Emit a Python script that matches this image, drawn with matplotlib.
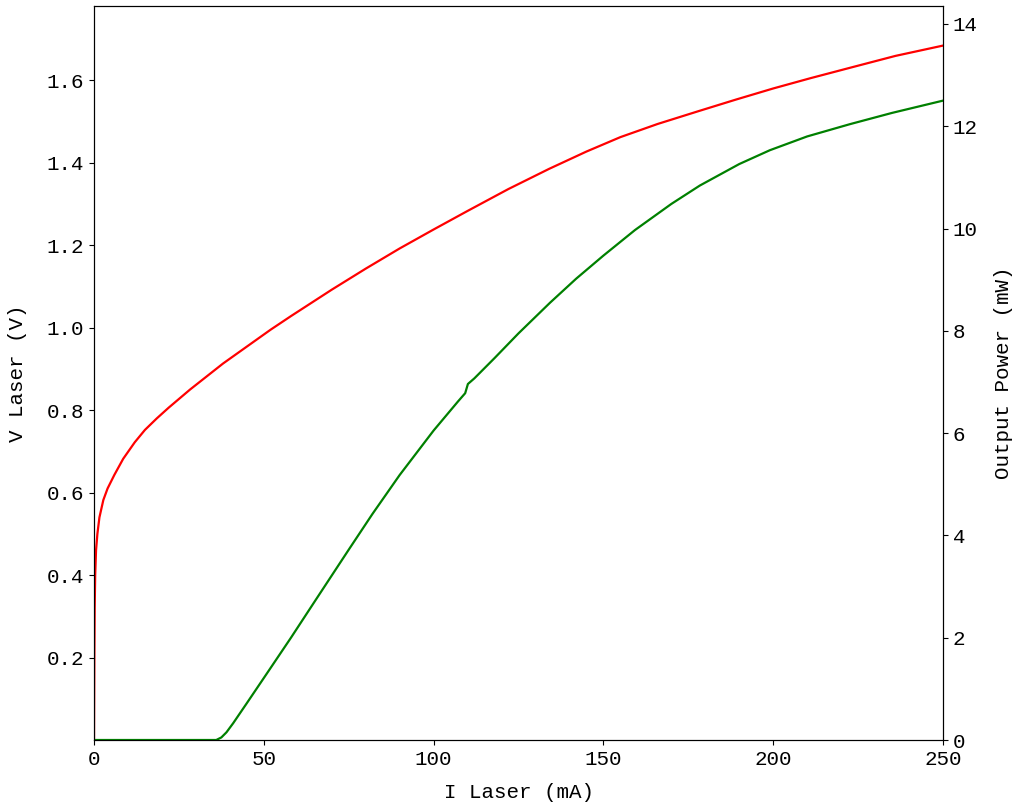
import matplotlib.pyplot as plt
import numpy as np

# laser current (mA) vs voltage (V)
i_v = [0, 0.1, 0.2, 0.35, 0.6, 1.0, 1.6, 2.75, 4, 6, 8.6, 12, 15, 18.5, 22, 28.3,
       38, 52, 58, 70, 80, 90, 100, 110, 122, 134, 145, 155, 166, 178, 189, 200,
       211, 223, 236, 250]
v_laser = [0, 0.2, 0.32, 0.40, 0.46, 0.50, 0.54, 0.582, 0.61, 0.643, 0.682, 0.722,
           0.752, 0.780, 0.806, 0.850, 0.913, 0.995, 1.028, 1.092, 1.143, 1.192,
           1.238, 1.283, 1.336, 1.385, 1.427, 1.462, 1.494, 1.525, 1.553, 1.580,
           1.605, 1.631, 1.659, 1.684]

# laser current (mA) vs output power (mW)
i_p = [0, 36, 37.5, 39, 41, 45, 50.9, 58, 65.1, 75, 82, 90, 100, 107.2, 109.3, 110.1,
       112, 118, 125, 134.3, 142, 150, 159.3, 170, 178.4, 190, 199, 210, 222.6, 235, 250]
p_out = [0, 0, 0.05, 0.15, 0.33, 0.72, 1.3, 2.0, 2.72, 3.72, 4.42, 5.18, 6.05, 6.62,
         6.78, 6.96, 7.07, 7.47, 7.95, 8.55, 9.02, 9.47, 9.97, 10.48, 10.84, 11.26,
         11.53, 11.80, 12.04, 12.26, 12.5]

plt.rcParams['font.family'] = ['Liberation Mono', 'DejaVu Sans']

fig = plt.figure(figsize=(10.24, 8.09), dpi=100)
ax = fig.add_axes([94/1024, 1 - 740/809, 849/1024, 734/809])
ax.plot(i_v, v_laser, color='red', lw=1.6)
ax.set_xlim(0, 250)
ax.set_ylim(0, 1.78)
ax.set_yticks([0.2, 0.4, 0.6, 0.8, 1.0, 1.2, 1.4, 1.6])
ax.set_xticks([0, 50, 100, 150, 200, 250])
ax.set_xlabel("I Laser (mA)", fontsize=15, labelpad=10)
ax.set_ylabel("V Laser (V)", fontsize=15, labelpad=14)
ax.tick_params(labelsize=15)

ax2 = ax.twinx()
ax2.plot(i_p, p_out, color='green', lw=1.6)
ax2.set_ylim(0, 14.35)
ax2.set_yticks([0, 2, 4, 6, 8, 10, 12, 14])
ax2.set_ylabel("Output Power (mW)", fontsize=15, labelpad=12)
ax2.tick_params(labelsize=15)

fig.savefig("out.png", dpi=100)
